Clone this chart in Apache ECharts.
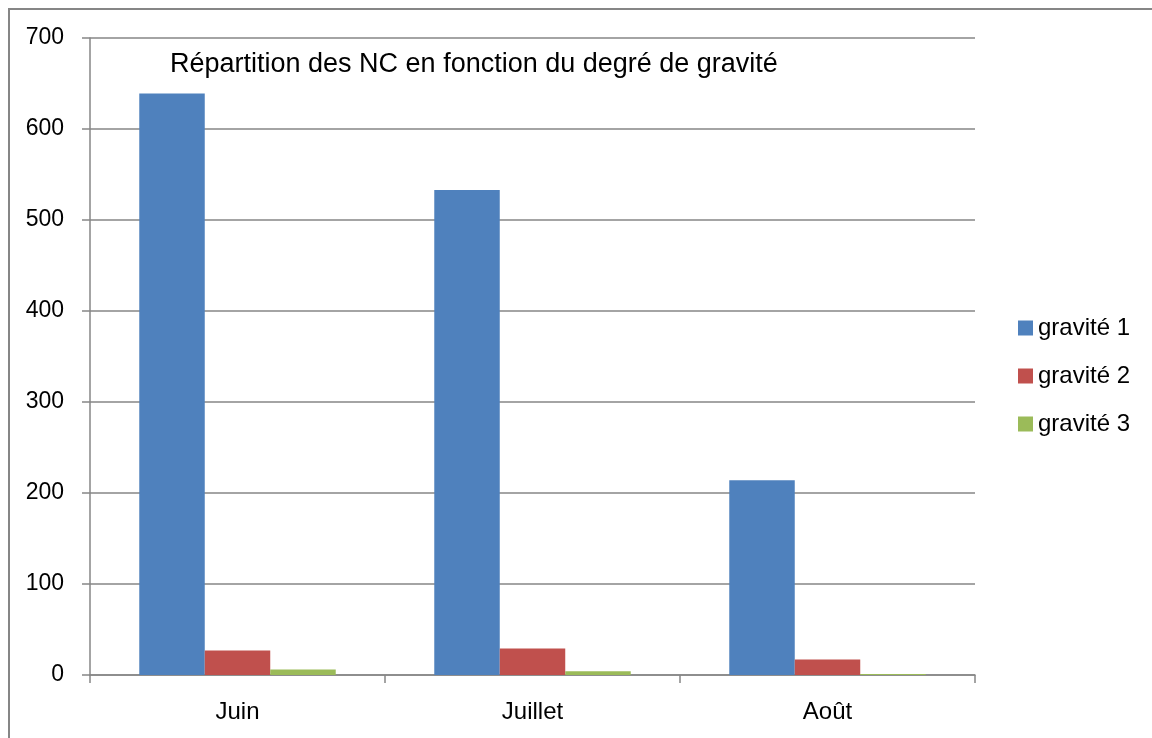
<!DOCTYPE html>
<html><head><meta charset="utf-8">
<script src="https://cdn.jsdelivr.net/npm/echarts@6/dist/echarts.min.js"></script>
<style>html,body{margin:0;padding:0;background:#fff}#c{width:1152px;height:738px}</style>
</head><body><div id="c"></div>
<script>
const categories = ['Juin', 'Juillet', 'Août'];
const gravite1 = [639, 533, 214];
const gravite2 = [27, 29, 17];
const gravite3 = [6, 4, 1];
const seriesNames = ['gravité 1', 'gravité 2', 'gravité 3'];
const colors = ['#4F81BD', '#C0504D', '#9BBB59'];
const titleText = 'Répartition des NC en fonction du degré de gravité';

const FONT = 'Liberation Sans';
const chart = echarts.init(document.getElementById('c'), null, {renderer: 'canvas'});
const mk = (name, data, i) => ({
  name, type: 'bar', data, barGap: '0%', barCategoryGap: '33.4%',
  itemStyle: {color: colors[i]}
});
chart.setOption({
  animation: false,
  color: colors,
  graphic: [{
    type: 'polyline', shape: {points: [[9, 738], [9, 9], [1152, 9]]},
    style: {stroke: '#868686', lineWidth: 2, fill: null}
  }],
  title: {
    text: titleText, left: 170, top: 51, padding: 0,
    textStyle: {fontFamily: FONT, fontSize: 27, fontWeight: 'normal', color: '#000'}
  },
  legend: {
    orient: 'vertical', left: 1018, top: 316, padding: 0, itemWidth: 15, itemHeight: 15, itemGap: 24,
    icon: 'rect',
    textStyle: {fontFamily: FONT, fontSize: 24, color: '#000', lineHeight: 24},
    data: seriesNames
  },
  grid: {left: 90, right: 177, top: 38, bottom: 63, containLabel: false},
  xAxis: {
    type: 'category', data: categories,
    axisLine: {lineStyle: {color: '#868686', width: 1.5}},
    axisTick: {show: true, length: 8, lineStyle: {color: '#868686', width: 1.5}},
    axisLabel: {fontFamily: FONT, fontSize: 24, color: '#000', margin: 25}
  },
  yAxis: {
    type: 'value', min: 0, max: 700, interval: 100,
    axisLine: {show: true, lineStyle: {color: '#868686', width: 1.5}},
    axisTick: {show: true, length: 8, lineStyle: {color: '#868686', width: 1.5}},
    splitLine: {lineStyle: {color: '#868686', width: 1.5}},
    axisLabel: {fontFamily: FONT, fontSize: 23, color: '#000', margin: 26}
  },
  series: [mk(seriesNames[0], gravite1, 0), mk(seriesNames[1], gravite2, 1), mk(seriesNames[2], gravite3, 2)]
});
</script></body></html>
